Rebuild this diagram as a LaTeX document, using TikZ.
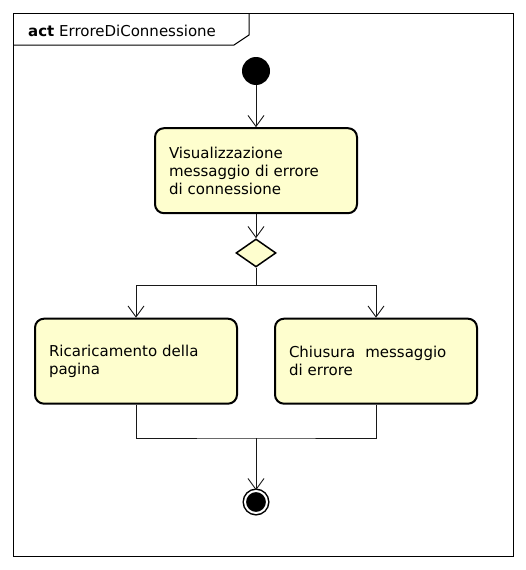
\documentclass[tikz,border=0pt]{standalone}
\usepackage{fontspec}
\setmainfont{DejaVu Sans}
\usepackage{tikz}
\usetikzlibrary{arrows.meta, positioning, shapes.geometric}

\definecolor{actfill}{HTML}{FEFECE}
\definecolor{flowline}{HTML}{181818}

\begin{document}
\begin{tikzpicture}[
    x=1pt, y=-1pt,
    font=\fontsize{15}{18}\selectfont,
    box/.style={
        draw,
        fill=actfill,
        line width=2pt,
        rounded corners=9pt,
        align=left,
        text width=174pt,
        inner xsep=14pt,
        minimum height=85pt
    },
    startnode/.style={
        circle,
        fill=black,
        inner sep=0pt,
        minimum size=28pt
    },
    endnode/.style={
        circle,
        draw,
        fill=black,
        line width=1.5pt,
        double=white,
        double distance=2pt,
        inner sep=0pt,
        minimum size=22pt
    },
    choicebox/.style={
        diamond,
        draw,
        fill=actfill,
        line width=1.5pt,
        inner sep=0pt,
        minimum width=40pt,
        minimum height=28pt
    },
    arrow/.style={
        -{Straight Barb[length=11pt, width=16pt]},
        flowline,
        line width=0.9pt
    },
    flow/.style={
        flowline,
        line width=0.9pt
    }
]

\useasboundingbox (0,0) rectangle (525,570);

\draw[line width=1pt] (13,13) rectangle (513,556);
\draw[line width=1pt] (13,45) -- (234,45) -- (249,35) -- (249,13);
\node[anchor=base west, inner sep=0pt] (title) at (28,36)
{\textbf{act} ErroreDiConnessione};

\node[startnode] (start) at (256,71) {};

\node[box, below=42pt of start] (message)
{Visualizzazione\\messaggio di errore\\di connessione};

\node[choicebox, below=24pt of message] (choice) {};

\node[box, below=50pt of choice, xshift=-120pt] (reload)
{Ricaricamento della\\pagina};

\node[box, below=50pt of choice, xshift=120pt] (close)
{Chiusura\ \ messaggio\\di errore};

\node[endnode] (stop) at (256,502) {};

\coordinate (fork) at (256,285);
\coordinate (join) at (256,438);

\draw[arrow] (start) -- (message);
\draw[arrow] (message) -- (choice);
\draw[flow] (choice.south) -- (fork);
\draw[arrow] (fork) -| (reload);
\draw[arrow] (fork) -| (close);
\draw[flow] (reload.south) |- (join) -| (close.south);
\draw[arrow] (join) -- (stop);

\end{tikzpicture}
\end{document}
